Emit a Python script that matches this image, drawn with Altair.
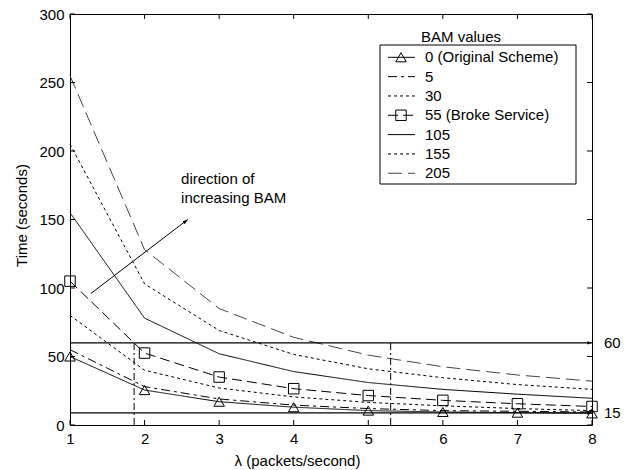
import altair as alt
import pandas as pd

# ---------------- data ----------------
lam = [1, 2, 3, 4, 5, 6, 7, 8]
series_labels = ["0 (Original Scheme)", "5", "30", "55 (Broke Service)", "105", "155", "205"]
t_bam0 = [50, 25.5, 17, 13, 10.5, 9.5, 9, 8.5]
t_bam5 = [55, 28, 19, 14.5, 12, 10.5, 10, 9.5]
t_bam30 = [80, 40, 27, 20.5, 16.5, 14, 12, 10.5]
t_bam55 = [105, 52.5, 35, 26.5, 21.5, 18, 15.5, 13.5]
t_bam105 = [155, 78, 52, 39, 31, 26, 22.5, 19.5]
t_bam155 = [205, 103, 69, 51.5, 41, 34.5, 29.5, 26]
t_bam205 = [255, 128, 85, 64, 51, 42.5, 36.5, 32]
series_values = [t_bam0, t_bam5, t_bam30, t_bam55, t_bam105, t_bam155, t_bam205]

x_ticks = [1, 2, 3, 4, 5, 6, 7, 8]
y_ticks = [0, 50, 100, 150, 200, 250, 300]

ref_levels = [60, 8.8]
ref_labels = ["60", "15"]
vline_lam = [1.86, 5.3]
vline_top = 60
arrow_from = (1.28, 96)
arrow_to = (2.58, 150)
note_lines = ["direction of", "increasing BAM"]
note_pos = [(2.49, 175.7), (2.49, 161.8)]

# ---------------- styles ----------------
styles = [
    dict(dash=[1, 0], color="black", marker="triangle-up"),
    dict(dash=[9, 4, 3, 4], color="black", marker=None),
    dict(dash=[3, 3], color="black", marker=None),
    dict(dash=[10, 5], color="black", marker="square"),
    dict(dash=[1, 0], color="black", marker=None),
    dict(dash=[3, 3], color="black", marker=None),
    dict(dash=[14, 6], color="#444444", marker=None),
]

W, H = 522, 411
FONT = "Liberation Sans"
FS = 15

xs = alt.Scale(domain=[1, 8], nice=False, zero=False)
ys = alt.Scale(domain=[0, 300], nice=False, zero=True)
x_axis = alt.Axis(values=x_ticks, title="λ (packets/second)", labelFlush=False,
                  labelOverlap=False, titleX=227, titleY=35, titleAlign="center",
                  titleBaseline="middle")
y_axis = alt.Axis(values=y_ticks, title="Time (seconds)", labelOverlap=False,
                  titleX=-49, titleY=201, titleAlign="center", titleBaseline="middle")

X = alt.X("lam:Q", scale=xs, axis=x_axis)
Y = alt.Y("T:Q", scale=ys, axis=y_axis)

layers = []

# series lines and markers
for lab, vals, st in zip(series_labels, series_values, styles):
    df = pd.DataFrame({"lam": lam, "T": vals, "series": lab})
    layers.append(alt.Chart(df).mark_line(color=st["color"], strokeDash=st["dash"],
                                          strokeWidth=1).encode(x=X, y=Y))
    if st["marker"]:
        layers.append(alt.Chart(df).mark_point(shape=st["marker"], filled=False, size=110,
                                               color="black", strokeWidth=1, opacity=1)
                      .encode(x=X, y=Y))

# horizontal reference lines with arrowheads and labels
ref_df = pd.DataFrame({"lam": [1] * len(ref_levels), "lam2": [8] * len(ref_levels),
                       "lamEnd": [8] * len(ref_levels), "T": ref_levels, "label": ref_labels})
layers.append(alt.Chart(ref_df).mark_rule(color="black", strokeWidth=1.2)
              .encode(x=X, x2="lam2:Q", y=Y))
head_shape = "M -1 -0.35 L 0 0 L -1 0.35 Z"
layers.append(alt.Chart(ref_df).mark_point(shape=head_shape, filled=True, size=90,
                                           color="black", opacity=1)
              .encode(x=alt.X("lamEnd:Q", scale=xs, axis=x_axis), y=Y))
layers.append(alt.Chart(ref_df).mark_text(align="left", baseline="middle", dx=12,
                                          font=FONT, fontSize=FS, color="black")
              .encode(x=alt.X("lamEnd:Q", scale=xs, axis=x_axis), y=Y, text="label:N"))

# vertical dash-dot lines
v_df = pd.DataFrame({"lam": vline_lam, "T": [0] * len(vline_lam), "T2": [vline_top] * len(vline_lam)})
layers.append(alt.Chart(v_df).mark_rule(color="black", strokeWidth=1, strokeDash=[7, 3, 2, 3])
              .encode(x=X, y=Y, y2="T2:Q"))

# direction arrow
arr_df = pd.DataFrame({"lam": [arrow_from[0]], "T": [arrow_from[1]],
                       "lam2": [arrow_to[0]], "T2": [arrow_to[1]]})
layers.append(alt.Chart(arr_df).mark_rule(color="black", strokeWidth=1)
              .encode(x=X, y=Y, x2="lam2:Q", y2="T2:Q"))
head_df = pd.DataFrame({"lam": [arrow_to[0]], "T": [arrow_to[1]]})
layers.append(alt.Chart(head_df).mark_point(shape=head_shape, filled=True, size=110,
                                            color="black", opacity=1, angle=322.6)
              .encode(x=X, y=Y))

# note text
note_df = pd.DataFrame({"lam": [p[0] for p in note_pos], "T": [p[1] for p in note_pos],
                        "txt": note_lines})
layers.append(alt.Chart(note_df).mark_text(align="left", baseline="alphabetic",
                                           font=FONT, fontSize=FS, color="black")
              .encode(x=X, y=Y, text="txt:N"))

# inward ticks
xt_df = pd.DataFrame({"lam": x_ticks})
yt_df = pd.DataFrame({"T": y_ticks})
layers.append(alt.Chart(xt_df).mark_rule(color="black")
              .encode(x=X, y=alt.value(H), y2=alt.value(H - 5)))
layers.append(alt.Chart(xt_df).mark_rule(color="black")
              .encode(x=X, y=alt.value(0), y2=alt.value(5)))
layers.append(alt.Chart(yt_df).mark_rule(color="black")
              .encode(y=Y, x=alt.value(0), x2=alt.value(5)))
layers.append(alt.Chart(yt_df).mark_rule(color="black")
              .encode(y=Y, x=alt.value(W), x2=alt.value(W - 5)))

# manual legend
box_df = pd.DataFrame({"k": [0]})
layers.append(alt.Chart(box_df).mark_rect(fill="white", stroke="black", strokeWidth=1)
              .encode(x=alt.value(310), x2=alt.value(506), y=alt.value(31), y2=alt.value(170)))
layers.append(alt.Chart(box_df).mark_text(text="BAM values", align="center", baseline="middle",
                                          font=FONT, fontSize=FS, color="black")
              .encode(x=alt.value(391), y=alt.value(23)))
for i, (lab, st) in enumerate(zip(series_labels, styles)):
    ypix = 43.3 + i * 19.33
    row = pd.DataFrame({"ypix": [ypix], "label": [lab]})
    Yp = alt.Y("ypix:Q", scale=None)
    layers.append(alt.Chart(row).mark_rule(color=st["color"], strokeDash=st["dash"], strokeWidth=1)
                  .encode(x=alt.value(318), x2=alt.value(345), y=Yp))
    if st["marker"]:
        layers.append(alt.Chart(row).mark_point(shape=st["marker"], filled=False, size=110,
                                                color="black", strokeWidth=1, opacity=1)
                      .encode(x=alt.value(331), y=Yp))
    layers.append(alt.Chart(row).mark_text(align="left", baseline="middle", font=FONT,
                                           fontSize=FS, color="black")
                  .encode(x=alt.value(355), y=Yp, text="label:N"))

chart = (
    alt.layer(*layers)
    .properties(width=W, height=H, autosize=alt.AutoSizeParams(type="none"),
                padding={"left": 62, "top": 6, "right": 31, "bottom": 45},
                background="white")
    .configure_view(stroke="black", strokeWidth=1)
    .configure_axis(labelFont=FONT, labelFontSize=FS, labelColor="black",
                    titleFont=FONT, titleFontSize=FS, titleFontWeight="normal",
                    titleColor="black", domain=False, ticks=True, tickSize=0,
                    grid=False, labelPadding=6)
)

chart.save("out.html", embed_options={"renderer": "svg", "actions": False})
